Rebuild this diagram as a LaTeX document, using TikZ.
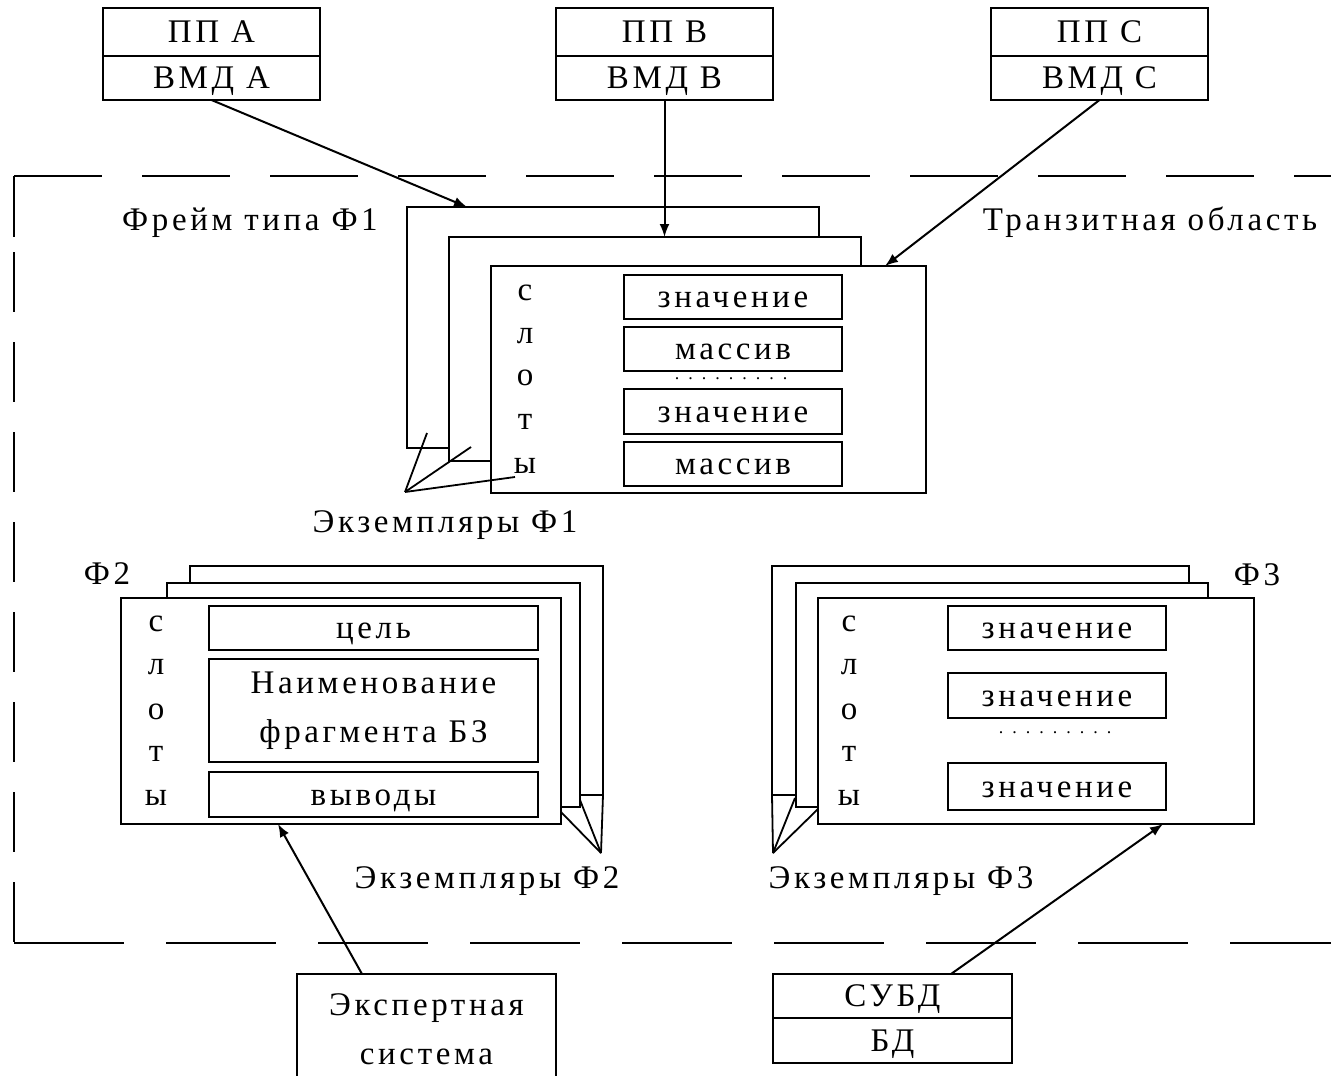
\documentclass[tikz,border=0pt]{standalone}
\usepackage{fontspec}
\setmainfont{Liberation Serif}[LetterSpace=11]
\usetikzlibrary{arrows.meta,calc}
\tikzset{
  every node/.style={font=\fontsize{33}{49}\selectfont, inner sep=0pt, outer sep=0pt},
  one/.style={text height=21pt, text depth=0pt},
  fr/.style={draw, fill=white, line width=2pt, anchor=north west},
  tx/.style={fr, one},
  arr/.style={line width=2pt, -{Latex[length=13pt,width=10pt]}},
  ln/.style={line width=1.8pt},
  bnd/.style={line width=2pt},
  dotsn/.style={font=\fontsize{18}{20}\selectfont\addfontfeatures{LetterSpace=50}}
}
\begin{document}
\begin{tikzpicture}[x=1pt,y=-1pt]
\useasboundingbox (0,0) rectangle (1331,1076);
% top boxes
\node[tx, minimum width=217pt, minimum height=48pt] (ppA) at (103,8) {ПП А};
\node[tx, minimum width=217pt, minimum height=44pt] (vmdA) at (103,56) {ВМД А};
\node[tx, minimum width=217pt, minimum height=48pt] (ppB) at (556,8) {ПП В};
\node[tx, minimum width=217pt, minimum height=44pt] (vmdB) at (556,56) {ВМД В};
\node[tx, minimum width=217pt, minimum height=48pt] (ppC) at (991,8) {ПП С};
\node[tx, minimum width=217pt, minimum height=44pt] (vmdC) at (991,56) {ВМД С};
% transit area boundary
\draw[bnd, dash pattern=on 88pt off 40pt] (14,176) -- (1331,176);
\draw[bnd] (14,176) -- (14,237);
\draw[bnd, dash pattern=on 60pt off 30pt] (14,252) -- (14,943);
\draw[bnd, dash pattern=on 110pt off 42pt] (14,943) -- (1331,943);
\node[one] (lblF1) at (250,220) {Фрейм типа Ф1};
\node[one] (lblTr) at (1150,220) {Транзитная область};
% F1 stack
\node[fr, minimum width=412pt, minimum height=241pt] (f1a) at (407,207) {};
\node[fr, minimum width=412pt, minimum height=224pt] (f1b) at (449,237) {};
\node[fr, minimum width=435pt, minimum height=227pt] (f1c) at (491,266) {};
\node[tx, minimum width=218pt, minimum height=44pt] (s11) at (624,275) {значение};
\node[tx, minimum width=218pt, minimum height=44pt] (s12) at (624,327) {массив};
\node[dotsn] (d1) at (731,379) {.........};
\node[tx, minimum width=218pt, minimum height=45pt] (s13) at (624,389) {значение};
\node[tx, minimum width=218pt, minimum height=44pt] (s14) at (624,442) {массив};
\node[one] (c1) at (525,290) {с};
\node[one] (c2) at (525,333) {л};
\node[one] (c3) at (525,375) {о};
\node[one] (c4) at (525,419) {т};
\node[one] (c5) at (525,463) {ы};
\coordinate (fan1) at (405,492);
\draw[ln] (fan1) -- (427,433);
\draw[ln] (fan1) -- (471,447);
\draw[ln] (fan1) -- (515,477);
\node[one] (ex1) at (445,522) {Экземпляры Ф1};
% arrows from top
\draw[arr] (vmdA.south) -- ($(f1a.north west)+(60,0)$);
\draw[arr] (vmdB.south) -- (vmdB.south |- f1b.north);
\draw[arr] (vmdC.south) -- ($(f1c.north east)+(-41,0)$);
% F2 stack
\node[fr, minimum width=413pt, minimum height=229pt] (f2a) at (190,566) {};
\node[fr, minimum width=413pt, minimum height=224pt] (f2b) at (167,583) {};
\node[fr, minimum width=440pt, minimum height=226pt] (f2c) at (121,598) {};
\node[tx, minimum width=329pt, minimum height=44pt] (s21) at (209,606) {цель};
\node[fr, minimum width=329pt, minimum height=103pt, align=center] (s22) at (209,659) {Наименование\\фрагмента БЗ};
\node[tx, minimum width=329pt, minimum height=45pt] (s23) at (209,772) {выводы};
\node[one] (e1) at (156,621) {с};
\node[one] (e2) at (156,664) {л};
\node[one] (e3) at (156,709) {о};
\node[one] (e4) at (156,751) {т};
\node[one] (e5) at (156,795) {ы};
\node[one] (lblF2) at (107,574) {Ф2};
\coordinate (fan2) at (601,853);
\draw[ln] (f2a.south east) -- (fan2);
\draw[ln] (561,812) -- (fan2);
\draw[ln] (580,800) -- (fan2);
\node[one] (ex2) at (487,878) {Экземпляры Ф2};
% F3 stack
\node[fr, minimum width=417pt, minimum height=229pt] (f3a) at (772,566) {};
\node[fr, minimum width=412pt, minimum height=224pt] (f3b) at (796,583) {};
\node[fr, minimum width=436pt, minimum height=226pt] (f3c) at (818,598) {};
\node[tx, minimum width=218pt, minimum height=44pt] (s31) at (948,606) {значение};
\node[tx, minimum width=218pt, minimum height=45pt] (s32) at (948,673) {значение};
\node[dotsn] (d3) at (1055,733) {.........};
\node[tx, minimum width=218pt, minimum height=47pt] (s33) at (948,763) {значение};
\node[one] (g1) at (849,621) {с};
\node[one] (g2) at (849,664) {л};
\node[one] (g3) at (849,709) {о};
\node[one] (g4) at (849,751) {т};
\node[one] (g5) at (849,795) {ы};
\node[one] (lblF3) at (1257,575) {Ф3};
\coordinate (fan3) at (773,853);
\draw[ln] (f3a.south west) -- (fan3);
\draw[ln] (795,798) -- (fan3);
\draw[ln] (818,809) -- (fan3);
\node[one] (ex3) at (901,878) {Экземпляры Ф3};
% bottom boxes
\node[fr, minimum width=259pt, minimum height=110pt, align=center] (es) at (297,974) {Экспертная\\система};
\node[tx, minimum width=239pt, minimum height=44pt] (subd) at (773,974) {СУБД};
\node[tx, minimum width=239pt, minimum height=45pt] (bd) at (773,1018) {БД};
\draw[arr] ($(es.north west)+(65,0)$) -- ($(f2c.south west)+(157,0)$);
\draw[arr] ($(subd.north west)+(178,0)$) -- ($(f3c.south west)+(345,0)$);
\end{tikzpicture}
\end{document}
